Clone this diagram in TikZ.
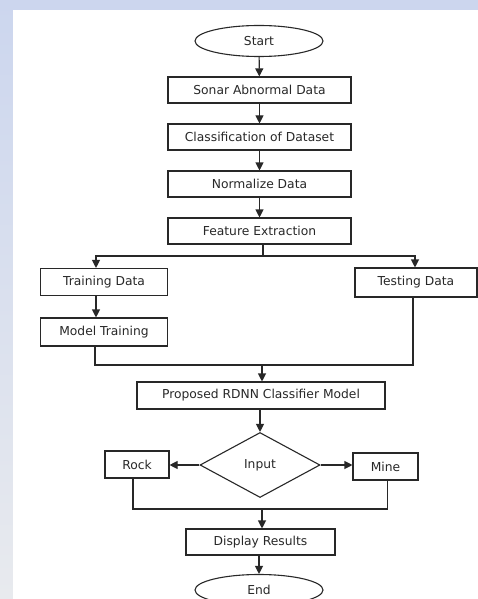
\documentclass[tikz,border=0pt]{standalone}
\usepackage{fontspec}
\setmainfont{DejaVu Sans}
\usetikzlibrary{shapes.geometric,arrows.meta}

\definecolor{wmblue}{RGB}{204,214,238}
\definecolor{wmgrey}{RGB}{232,234,238}
\definecolor{ink}{RGB}{40,40,40}

\tikzset{
    flowbox/.style={draw, line width=1.1pt, rectangle, inner sep=0pt, minimum height=26pt, align=center},
    term/.style={draw, line width=1.1pt, ellipse, inner sep=0pt, minimum width=128pt, minimum height=31pt},
    decide/.style={draw, line width=1.1pt, diamond, aspect=1.85, inner sep=0pt, minimum width=120pt, minimum height=65pt},
    arr/.style={line width=1.1pt, -{Triangle[width=8pt,length=8pt]}},
    ln/.style={line width=1.1pt}
}

\begin{document}
\begin{tikzpicture}[x=1pt, y=-1pt, font=\fontsize{12.3}{14}\selectfont, color=ink]
    \useasboundingbox (0,0) rectangle (478,599);
    \shade[top color=wmblue, bottom color=wmgrey] (0,0) rectangle (478,599);
    \fill[white] (13,10) rectangle (478,599);

    % main column
    \node[term] (start) at (259,41) {Start};
    \node[flowbox, minimum width=183pt] (sonar) at (259.5,90) {Sonar Abnormal Data};
    \node[flowbox, minimum width=183pt] (classify) at (259.5,137) {Classification of Dataset};
    \node[flowbox, minimum width=183pt] (norm) at (259.5,184) {Normalize Data};
    \node[flowbox, minimum width=183pt] (feat) at (259.5,231) {Feature Extraction};

    % two branches
    \node[flowbox, minimum width=127pt, minimum height=27pt] (train) at (104,282) {Training Data};
    \node[flowbox, minimum width=127pt, minimum height=28pt] (model) at (104,332) {Model Training};
    \node[flowbox, minimum width=122pt, minimum height=29pt] (test) at (416,282.5) {Testing Data};

    \node[flowbox, minimum width=248pt, minimum height=27pt] (rdnn) at (261,395.5) {Proposed RDNN Classifier Model};
    \node[decide] (input) at (260,465) {Input};
    \node[flowbox, minimum width=64pt, minimum height=27pt] (rock) at (137,464.5) {Rock};
    \node[flowbox, minimum width=65pt, minimum height=27pt] (mine) at (385.5,466.5) {Mine};
    \node[flowbox, minimum width=149pt] (show) at (260.5,542) {Display Results};
    \node[term] (end) at (259,590) {End};

    \coordinate (split) at (263,256);
    \coordinate (joinA) at (262,365);
    \coordinate (joinB) at (262,509);

    \draw[arr] (start) -- (sonar);
    \draw[arr] (sonar) -- (classify);
    \draw[arr] (classify) -- (norm);
    \draw[arr] (norm.south -| feat.north) -- (feat);

    \draw[ln] (feat.south -| split) -- (split);
    \draw[arr] (split) -| ([xshift=-8pt]train.north);
    \draw[arr] (split) -| ([xshift=-1pt]test.north);
    \draw[arr] ([xshift=-8pt]train.south) -- ([xshift=-8pt]model.north);

    \draw[ln] ([xshift=-9pt]model.south) |- (joinA);
    \draw[ln] ([xshift=-3pt]test.south) |- (joinA);
    \draw[arr] (joinA) -- (rdnn.north -| joinA);

    \draw[arr] (rdnn.south -| input.north) -- (input);
    \draw[arr] (input.west) -- (rock.east |- input.west);
    \draw[arr] (input.east) -- (mine.west |- input.east);

    \draw[ln] ([xshift=-4pt]rock.south) |- (joinB);
    \draw[ln] ([xshift=2pt]mine.south) |- (joinB);
    \draw[arr] (joinB) -- (show.north -| joinB);
    \draw[arr] (show.south -| end.north) -- (end);
\end{tikzpicture}
\end{document}
